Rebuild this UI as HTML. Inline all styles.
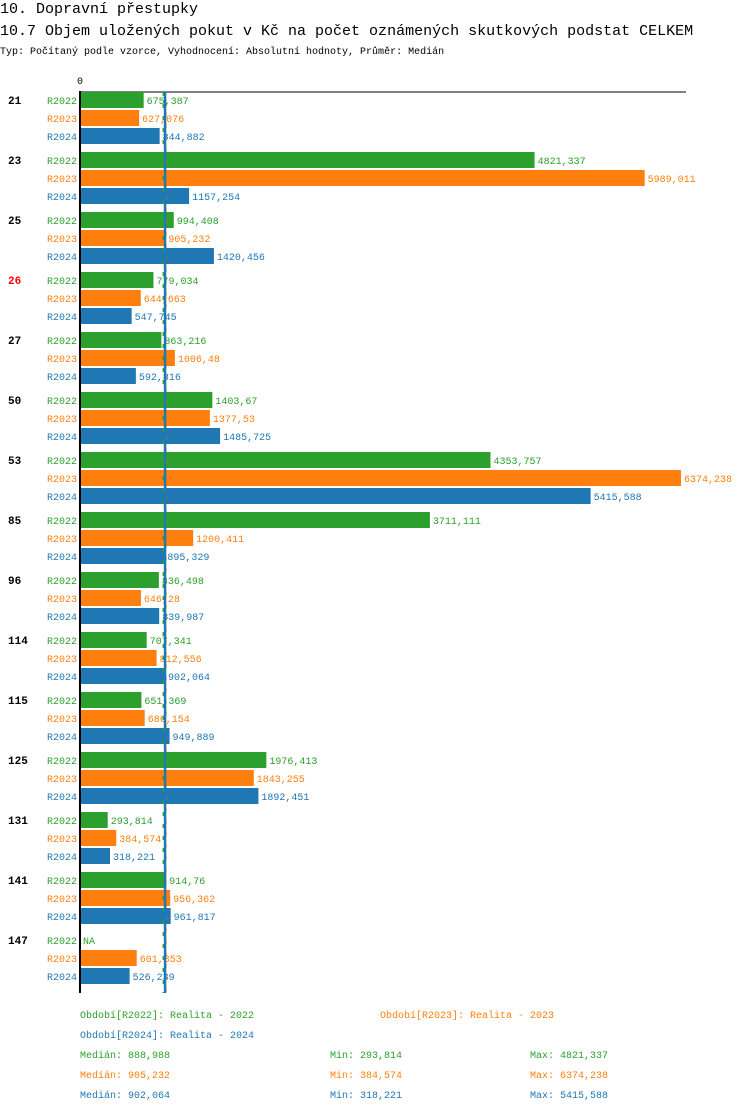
<!DOCTYPE html>
<html><head><meta charset="utf-8"><style>
body{margin:0;background:#fff;width:750px;height:1112px;overflow:hidden}
svg text{font-family:"Liberation Mono",monospace}
</style></head><body>
<svg id="c" width="750" height="1112" xmlns="http://www.w3.org/2000/svg">
<text x="0" y="13" font-size="15">10. Dopravní přestupky</text>
<text x="0" y="35" font-size="15">10.7 Objem uložených pokut v Kč na počet oznámených skutkových podstat CELKEM</text>
<text x="0" y="54" font-size="10">Typ: Počítaný podle vzorce, Vyhodnocení: Absolutní hodnoty, Průměr: Medián</text>
<text x="80" y="84" font-size="10" text-anchor="middle">0</text>
<line x1="79" y1="92" x2="686" y2="92" stroke="#000" stroke-width="1"/>
<g id="bars"></g>
<line x1="80" y1="91" x2="80" y2="993" stroke="#000" stroke-width="2"/>
<g id="legend"></g>
</svg>
<script>
const categories=["21","23","25","26","27","50","53","85","96","114","115","125","131","141","147"];
const series=["R2022","R2023","R2024"];
const r2022=[675.387,4821.337,994.408,779.034,863.216,1403.67,4353.757,3711.111,836.498,707.341,651.369,1976.413,293.814,914.76,null];
const r2023=[627.076,5989.011,905.232,644.663,1006.48,1377.53,6374.238,1200.411,646.28,812.556,686.154,1843.255,384.574,956.362,601.353];
const r2024=[844.882,1157.254,1420.456,547.745,592.816,1485.725,5415.588,895.329,839.987,902.064,949.889,1892.451,318.221,961.817,526.239];
const medians=[888.988,905.232,902.064];
const mins=[293.814,384.574,318.221];
const maxs=[4821.337,6374.238,5415.588];
const colors=["#2ca02c","#ff7f0e","#1f77b4"];
const X0=80, SCALE=601/6374.238;
const xs=v=>X0+v*SCALE;
const ys=(gi,si)=>92+gi*60+si*18;
const fmt=v=>String(+v.toFixed(3)).replace('.',',');
const NS="http://www.w3.org/2000/svg";
function mk(tag,attrs,parent,txt){const e=document.createElementNS(NS,tag);for(const k in attrs)e.setAttribute(k,attrs[k]);if(txt!=null)e.textContent=txt;parent.appendChild(e);return e;}
const g=document.getElementById('bars');
const data=[r2022,r2023,r2024];
categories.forEach((c,gi)=>{
  const t=mk('text',{x:8,y:ys(gi,0)+12,'font-size':11,'font-weight':'bold',fill:c==="26"?"#ff0000":"#000"},g,c);
  
  
  series.forEach((s,si)=>{
    const v=data[si][gi];const y=ys(gi,si);
    const l=mk('text',{x:77,y:y+12,'font-size':10,'text-anchor':'end',fill:colors[si]},g,s);
    
    
    if(v==null){
      const n=mk('text',{x:83,y:y+12,'font-size':10,fill:colors[si]},g,'NA');
      
      
      return;
    }
    const r=mk('rect',{x:X0,y:y,width:xs(v)-X0,height:16,fill:colors[si]},g);
    
    
    const vt=mk('text',{x:xs(v)+3,y:y+12,'font-size':10,fill:colors[si]},g,fmt(v));
    
    
  });
});
[0,1,2].forEach(si=>{
  const m=mk('line',{x1:xs(medians[si]),y1:92,x2:xs(medians[si]),y2:993,stroke:colors[si],'stroke-width':2.5,'stroke-dasharray':si===2?'':'4,8','stroke-dashoffset':si*4},g);
  
  
});
const lg=document.getElementById('legend');
const L=[[80,1018,"Období[R2022]: Realita - 2022",0],[380,1018,"Období[R2023]: Realita - 2023",1],[80,1038,"Období[R2024]: Realita - 2024",2]];
L.forEach(a=>{
  const t=mk('text',{x:a[0],y:a[1],'font-size':10,fill:colors[a[3]]},lg,a[2]);
  
  
});
series.forEach((s,si)=>{
  const y=1058+si*20;
  const a=mk('text',{x:80,y:y,'font-size':10,fill:colors[si]},lg,"Medián: "+fmt(medians[si]));
  
  
  const b=mk('text',{x:330,y:y,'font-size':10,fill:colors[si]},lg,"Min: "+fmt(mins[si]));
  
  
  const d=mk('text',{x:530,y:y,'font-size':10,fill:colors[si]},lg,"Max: "+fmt(maxs[si]));
  
  
});
</script>
</body></html>
